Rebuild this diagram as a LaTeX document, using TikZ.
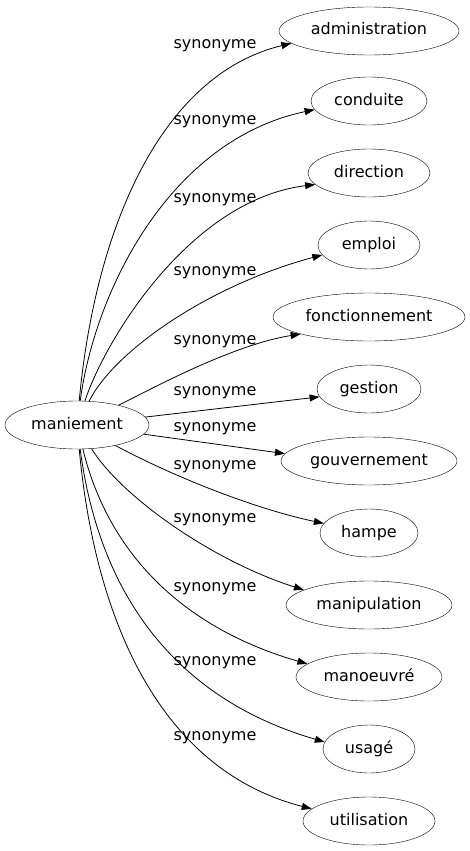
\documentclass[tikz,border=0pt]{standalone}
\usepackage{fontspec}
\setmainfont{DejaVu Sans}
\usetikzlibrary{shapes.geometric,arrows.meta}

\begin{document}
\begin{tikzpicture}[x=1pt, y=-1pt,
	word/.style={draw, ellipse, inner sep=0pt, minimum height=48pt,
		text height=11.5pt, text depth=3.5pt, font=\fontsize{16}{19}\selectfont},
	lbl/.style={inner sep=0pt, font=\fontsize{16}{19}\selectfont},
	edge/.style={-{Triangle[length=10pt,width=7pt]}, line width=0.8pt}]
	\useasboundingbox (0,0) rectangle (470,851);

	\node [word, minimum width=144pt] (man) at (77, 425) {maniement};

	\node [word, minimum width=180pt] (adm) at (369, 31) {administration};
	\node [word, minimum width=116pt] (cnd) at (369, 101) {conduite};
	\node [word, minimum width=122pt] (dir) at (369, 173) {direction};
	\node [word, minimum width=102pt] (emp) at (369, 245) {emploi};
	\node [word, minimum width=192pt] (fct) at (369, 317) {fonctionnement};
	\node [word, minimum width=104pt] (gst) at (369, 389) {gestion};
	\node [word, minimum width=176pt] (gov) at (369, 461) {gouvernement};
	\node [word, minimum width=98pt] (hmp) at (369, 533) {hampe};
	\node [word, minimum width=166pt] (mnp) at (369, 605) {manipulation};
	\node [word, minimum width=146pt] (mnv) at (369, 677) {manoeuvré};
	\node [word, minimum width=92pt] (usg) at (369, 749) {usagé};
	\node [word, minimum width=132pt] (utl) at (369, 821) {utilisation};

	% edges
	\draw [edge] (man) .. controls (95, 230) and (160, 75) .. (adm.189);
	\draw [edge] (man) .. controls (95, 290) and (170, 140) .. (cnd.189);
	\draw [edge] (man) .. controls (105, 340) and (190, 200) .. (dir.192);
	\draw [edge] (man) .. controls (115, 350) and (210, 285) .. (emp.192);
	\draw [edge] (man) .. controls (140, 395) and (230, 345) .. (fct.194);
	\draw [edge] (man) -- (gst.189);
	\draw [edge] (man) -- (gov.175);
	\draw [edge] (man) .. controls (180, 480) and (260, 510) .. (hmp.168);
	\draw [edge] (man) .. controls (120, 495) and (210, 560) .. (mnp.167);
	\draw [edge] (man) .. controls (110, 560) and (190, 630) .. (mnv.168);
	\draw [edge] (man) .. controls (100, 600) and (180, 700) .. (usg.171);
	\draw [edge] (man) .. controls (95, 620) and (160, 770) .. (utl.168);

	% labels
	\node [lbl] (s1) at (215, 46) {synonyme};
	\node [lbl] (s2) at (215, 122) {synonyme};
	\node [lbl] (s3) at (215, 200) {synonyme};
	\node [lbl] (s4) at (215, 273) {synonyme};
	\node [lbl] (s5) at (215, 342) {synonyme};
	\node [lbl] (s6) at (215, 393) {synonyme};
	\node [lbl] (s7) at (215, 429) {synonyme};
	\node [lbl] (s8) at (215, 467) {synonyme};
	\node [lbl] (s9) at (215, 520) {synonyme};
	\node [lbl] (s10) at (215, 589) {synonyme};
	\node [lbl] (s11) at (215, 663) {synonyme};
	\node [lbl] (s12) at (215, 738) {synonyme};

\end{tikzpicture}
\end{document}
